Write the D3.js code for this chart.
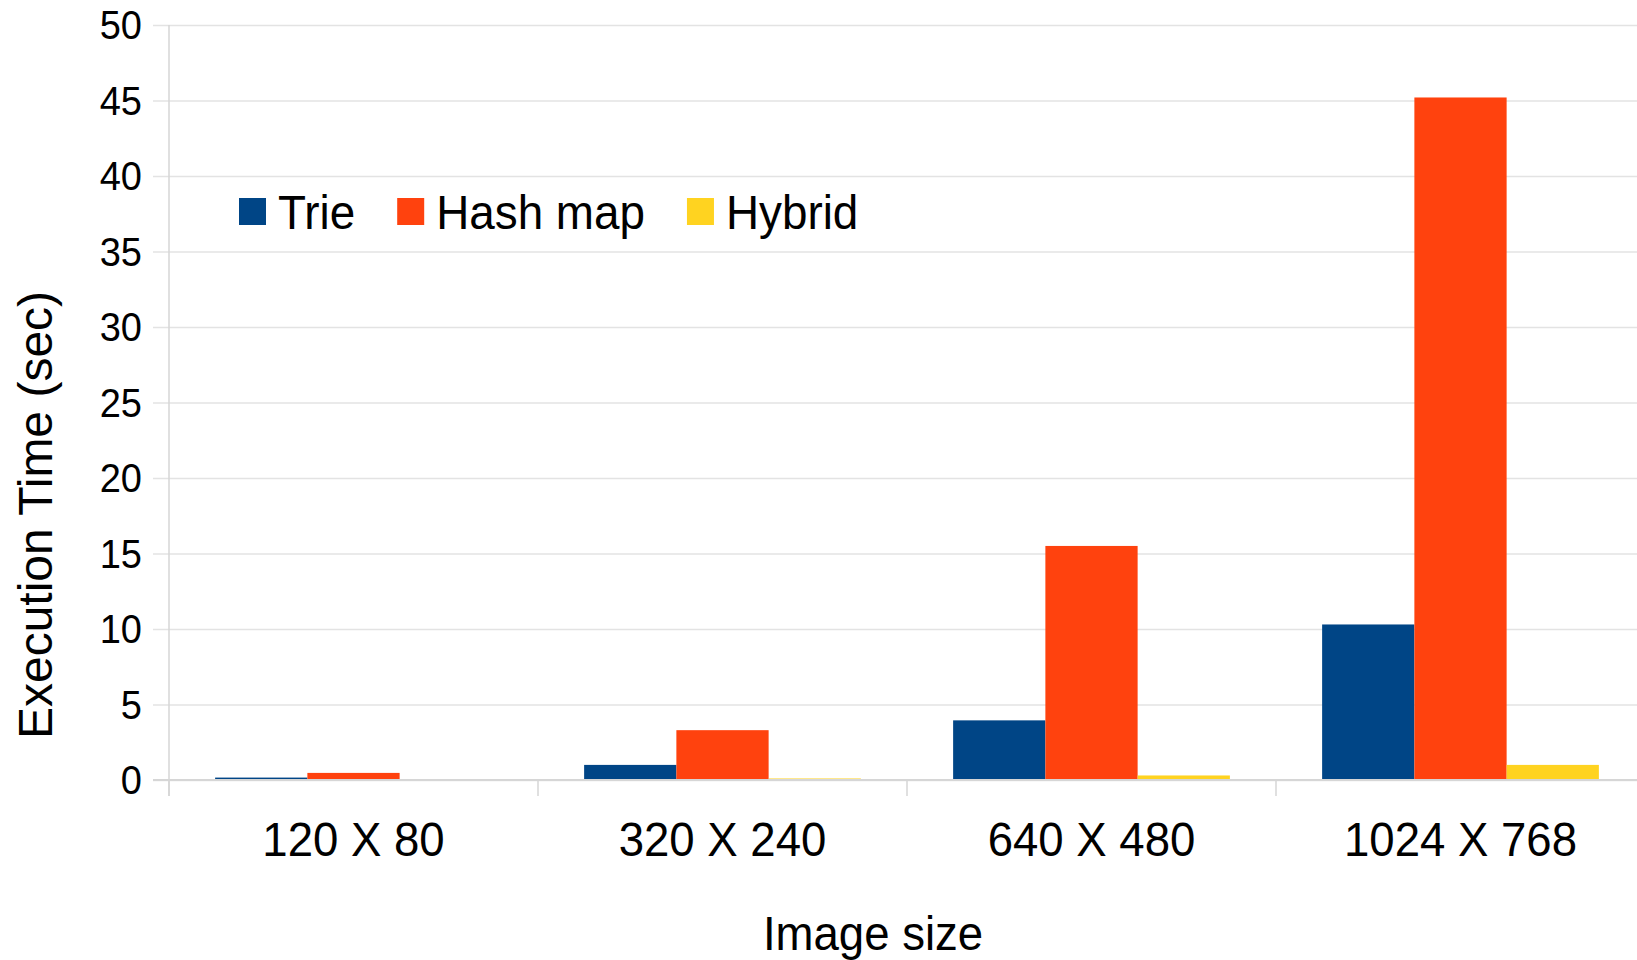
<!DOCTYPE html>
<html>
<head>
<meta charset="utf-8">
<script src="https://cdn.jsdelivr.net/npm/d3@7"></script>
<style>
  html, body { margin: 0; padding: 0; background: #ffffff; }
  svg text { font-family: "Liberation Sans", Arial, sans-serif; fill: #000; }
</style>
</head>
<body>
<svg id="chart" width="1637" height="960"></svg>
<script>
// Execution time (seconds) per image size for each lookup structure
const categories = ["120 X 80", "320 X 240", "640 X 480", "1024 X 768"];
const seriesNames = ["Trie", "Hash map", "Hybrid"];
const trie    = [0.16, 1.0, 3.95, 10.3];
const hashMap = [0.47, 3.3, 15.5, 45.2];
const hybrid  = [0.06, 0.1, 0.3, 1.0];
const yTicks  = [0, 5, 10, 15, 20, 25, 30, 35, 40, 45, 50];
const colors  = ["#004586", "#ff420e", "#ffd320"];

const seriesValues = [trie, hashMap, hybrid];
const rows = categories.map((c, i) => ({
  category: c,
  values: seriesNames.map((s, k) => ({ series: s, value: seriesValues[k][i] }))
}));

const svg = d3.select("#chart");
const plotLeft = 169, plotRight = 1645, plotTop = 25, plotBottom = 780;
const squeeze = 0.93; // labels are set slightly condensed

const x = d3.scaleBand().domain(categories).range([plotLeft, plotRight])
  .paddingInner(0.25).paddingOuter(0.125);
const x1 = d3.scaleBand().domain(seriesNames).range([0, x.bandwidth()]);
const y = d3.scaleLinear().domain([0, 50]).range([plotBottom, plotTop]);
const color = d3.scaleOrdinal().domain(seriesNames).range(colors);

// horizontal gridlines with short outward ticks
const yAxis = d3.axisLeft(y).tickValues(yTicks).tickSize(-(plotRight - plotLeft)).tickSizeOuter(0).tickFormat("");
const gy = svg.append("g").attr("transform", `translate(${plotLeft},0)`).call(yAxis);
gy.select(".domain").remove();
gy.selectAll(".tick line").attr("stroke", "#e3e3e3").attr("stroke-width", 1.5)
  .attr("x1", -16);

// vertical axis line
svg.append("line").attr("x1", plotLeft).attr("x2", plotLeft).attr("y1", plotTop).attr("y2", plotBottom + 16)
  .attr("stroke", "#d6d6d6").attr("stroke-width", 1.5);

// y tick labels
svg.append("g").selectAll("text").data(yTicks).join("text")
  .attr("transform", d => `translate(142,${y(d) + 14}) scale(0.95,1)`)
  .attr("text-anchor", "end")
  .attr("font-size", 40)
  .text(d => d);

// bars
const groups = svg.append("g").selectAll("g").data(rows).join("g")
  .attr("transform", d => `translate(${x(d.category)},0)`);
groups.selectAll("rect").data(d => d.values).join("rect")
  .attr("x", d => x1(d.series))
  .attr("width", x1.bandwidth())
  .attr("y", d => y(d.value))
  .attr("height", d => plotBottom - y(d.value))
  .attr("fill", d => color(d.series));

// baseline and category ticks
svg.append("line").attr("x1", plotLeft - 16).attr("x2", plotRight).attr("y1", plotBottom).attr("y2", plotBottom)
  .attr("stroke", "#d6d6d6").attr("stroke-width", 2);
const step = x.step();
const boundaries = categories.map(c => x(c) - x.paddingOuter() * step);
svg.append("g").selectAll("line").data(boundaries).join("line")
  .attr("x1", d => d).attr("x2", d => d).attr("y1", plotBottom).attr("y2", plotBottom + 16)
  .attr("stroke", "#d6d6d6").attr("stroke-width", 1.5);

// category labels
svg.append("g").selectAll("text").data(categories).join("text")
  .attr("transform", d => `translate(${x(d) + x.bandwidth() / 2},856) scale(${squeeze},1)`)
  .attr("text-anchor", "middle")
  .attr("font-size", 49)
  .text(d => d);

// axis titles
svg.append("text")
  .attr("transform", `translate(873,950) scale(${squeeze},1)`)
  .attr("text-anchor", "middle")
  .attr("font-size", 49)
  .text("Image size");

svg.append("text")
  .attr("transform", "translate(52,515) rotate(-90)")
  .attr("text-anchor", "middle")
  .attr("font-size", 48)
  .text("Execution Time (sec)");

// legend laid out left to right
const legend = svg.append("g");
const legendSqueeze = 0.935;
let lx = 239;
seriesNames.forEach((s, i) => {
  legend.append("rect").attr("x", lx).attr("y", 198).attr("width", 27).attr("height", 27)
    .attr("fill", color(s));
  const t = legend.append("text")
    .attr("transform", `translate(${lx + 39},229) scale(${legendSqueeze},1)`)
    .attr("font-size", 49)
    .text(s);
  const w = t.node().getComputedTextLength() * legendSqueeze;
  lx = lx + 39 + w + 42;
});
</script>
</body>
</html>
